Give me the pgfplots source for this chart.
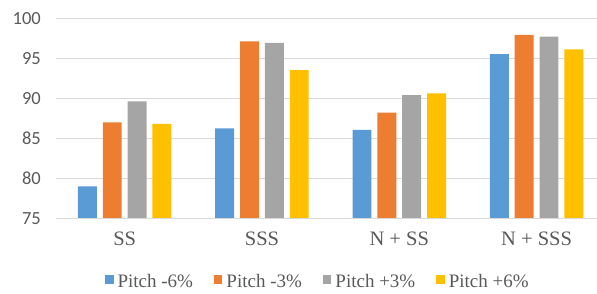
\documentclass[border=0pt]{standalone}
\usepackage{fontspec}
\setmainfont{Liberation Serif}
\newfontfamily\carlito{Carlito}
\usepackage{pgfplots}
\pgfplotsset{compat=1.18}
\definecolor{cA}{HTML}{5B9BD5}
\definecolor{cB}{HTML}{ED7D31}
\definecolor{cC}{HTML}{A5A5A5}
\definecolor{cD}{HTML}{FFC000}
\definecolor{gridc}{HTML}{D9D9D9}
\definecolor{txt}{HTML}{595959}
\begin{document}
\begin{tikzpicture}
\begin{axis}[
  name=ax,
  scale only axis,
  width=541pt, height=200.3pt,
  xmin=-0.5, xmax=3.44,
  ymin=75, ymax=100,
  ytick={75,80,...,100},
  xtick={0,1,2,3},
  xticklabels={SS,SSS,N + SS,N + SSS},
  axis line style={draw=none},
  tick style={draw=none},
  xmajorgrids=false,
  ymajorgrids=true,
  major grid style={draw=gridc, line width=1pt},
  /pgf/number format/assume math mode=true,
  yticklabel style={font=\carlito\fontsize{18.5}{20}\selectfont, text=txt, inner sep=0pt, xshift=-15pt},
  xticklabel style={font=\fontsize{20.5}{22}\selectfont, text=txt, inner sep=0pt, anchor=north, yshift=-13.5pt},
  legend columns=4,
  legend style={draw=none, fill=none, inner sep=0pt, outer sep=0pt,
    at={(axis description cs:0.0906,-0.3135)}, anchor=west,
    font=\fontsize{19}{21}\selectfont, text=txt,
    nodes={inner sep=0pt, anchor=west},
    /tikz/every odd column/.append style={column sep=4pt},
    /tikz/every even column/.append style={column sep=21pt}},
  legend image code/.code={\fill[#1] (0pt,-2.5pt) rectangle (8.5pt,6pt);},
]
\addplot[ybar, bar width=0.138, bar shift=-0.2715, fill=cA, draw=none] coordinates {(0,79.0) (1,86.25) (2,86.05) (3,95.5)};
\addplot[ybar, bar width=0.138, bar shift=-0.0905, fill=cB, draw=none] coordinates {(0,87.0) (1,97.1) (2,88.2) (3,97.9)};
\addplot[ybar, bar width=0.138, bar shift=0.0905, fill=cC, draw=none] coordinates {(0,89.6) (1,96.9) (2,90.4) (3,97.7)};
\addplot[ybar, bar width=0.138, bar shift=0.2715, fill=cD, draw=none] coordinates {(0,86.8) (1,93.5) (2,90.6) (3,96.1)};
\legend{Pitch -6\%,Pitch -3\%,Pitch +3\%,Pitch +6\%}
\draw[gridc, line width=1pt] (axis cs:-0.5,75) -- (axis cs:3.44,75);
\end{axis}
\pgfresetboundingbox
\path[use as bounding box] ([shift={(-56pt,-74.7pt)}]ax.south west) rectangle ([shift={(0pt,18.1pt)}]ax.north east);
\end{tikzpicture}
\end{document}
